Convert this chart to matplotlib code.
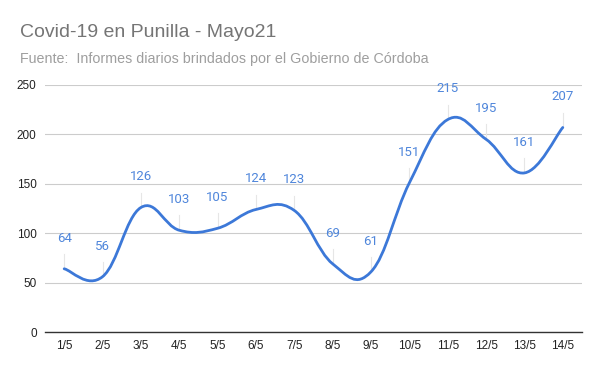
import numpy as np
import matplotlib
matplotlib.use("Agg")
import matplotlib.pyplot as plt
from matplotlib.path import Path
from matplotlib.patches import PathPatch

days = ["1/5", "2/5", "3/5", "4/5", "5/5", "6/5", "7/5", "8/5", "9/5", "10/5", "11/5", "12/5", "13/5", "14/5"]
cases = [64, 56, 126, 103, 105, 124, 123, 69, 61, 151, 215, 195, 161, 207]
yticks = [0, 50, 100, 150, 200, 250]

title = "Covid-19 en Punilla - Mayo21"
subtitle = "Fuente:  Informes diarios brindados por el Gobierno de Córdoba"

line_color = "#3c78d8"
label_color = "#4f86db"

plt.rcParams['font.family'] = ['Liberation Sans', 'DejaVu Sans']

fig = plt.figure(figsize=(6, 3.71), dpi=100)
ax = fig.add_axes([0.075, 0.105, 0.895, 0.666])

x = np.arange(len(cases), dtype=float)
y = np.array(cases, dtype=float)

# smooth curve through data points (cardinal bezier)
t = 0.2
verts = [(x[0], y[0])]
codes = [Path.MOVETO]
n = len(x)
for i in range(n - 1):
    p0 = np.array([x[max(i - 1, 0)], y[max(i - 1, 0)]])
    p1 = np.array([x[i], y[i]])
    p2 = np.array([x[i + 1], y[i + 1]])
    p3 = np.array([x[min(i + 2, n - 1)], y[min(i + 2, n - 1)]])
    c1 = p1 + (p2 - p0) * t
    c2 = p2 - (p3 - p1) * t
    verts += [tuple(c1), tuple(c2), tuple(p2)]
    codes += [Path.CURVE4] * 3
ax.add_patch(PathPatch(Path(verts, codes), fill=False, edgecolor=line_color, lw=2, zorder=3, capstyle='round'))

for xi, yi in zip(x, y):
    ax.plot([xi, xi], [yi + 2, yi + 15], color="#e6e6e6", lw=0.8, zorder=2)
    ax.annotate(str(int(yi)), (xi, yi), xytext=(0, 22), textcoords="offset points",
                ha="center", va="center", color=label_color, fontsize=9.5,
                family=['Roboto', 'DejaVu Sans'], zorder=4)

ax.set_xlim(-0.5, n - 0.5)
ax.set_ylim(0, 250)
ax.set_yticks(yticks)
ax.set_xticks(x)
ax.set_xticklabels(days)
ax.grid(axis='y', color="#cccccc", lw=0.8)
ax.set_axisbelow(True)
for s in ["top", "right", "left"]:
    ax.spines[s].set_visible(False)
ax.spines["bottom"].set_color("#333333")
ax.spines["bottom"].set_linewidth(1)
ax.tick_params(axis='both', length=0, labelsize=8.5, labelcolor="#222222")
ax.tick_params(axis='y', pad=6)
ax.tick_params(axis='x', pad=6)

fig.text(20 / 600, 1 - 37 / 371, title, fontsize=14, color="#757575", va="baseline")
fig.text(20 / 600, 1 - 63 / 371, subtitle, fontsize=10.3, color="#9e9e9e", va="baseline")

fig.savefig("out.png", dpi=100)
